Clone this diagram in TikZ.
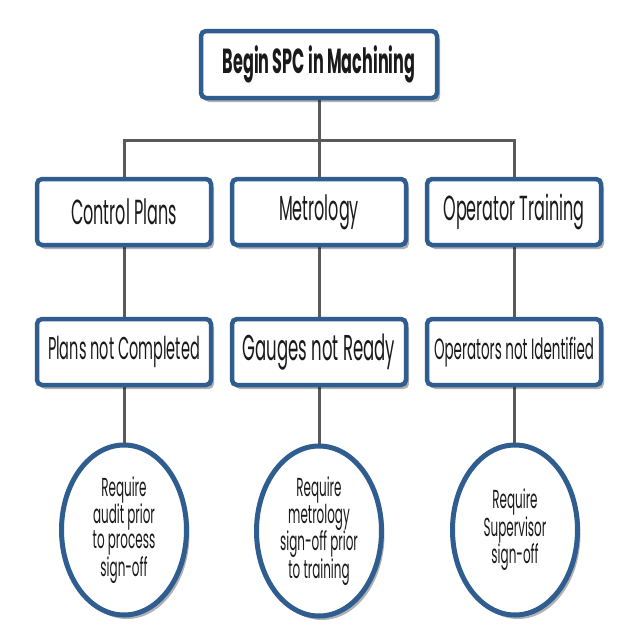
\documentclass[tikz,border=0pt]{standalone}
\usepackage{fontspec}
\setmainfont{Poppins}[FakeStretch=0.46]
\usetikzlibrary{shapes.geometric,shadows,backgrounds}
\definecolor{boxblue}{HTML}{2F5D8F}
\definecolor{linegray}{HTML}{5A5A5A}
\definecolor{txt}{HTML}{1A1A1A}
\begin{document}
\begin{tikzpicture}[x=1pt,y=-1pt,
  shad/.style={drop shadow={shadow xshift=3pt,shadow yshift=-4pt,fill=black,opacity=0.3}},
  box/.style={draw=boxblue,line width=4.5pt,rounded corners=5pt,fill=white,
    minimum width=174pt,minimum height=66pt,inner sep=0pt,text=txt,shad,
    font=\fontsize{34.8}{38}\selectfont},
  topbox/.style={box,minimum width=236pt,minimum height=67pt,font=\fontsize{34.8}{38}\selectfont\bfseries},
  oval/.style={ellipse,draw=boxblue,line width=5pt,fill=white,minimum width=125pt,
    minimum height=170pt,inner sep=0pt,align=center,text=txt,shad,
    font=\fontsize{26}{25}\selectfont},
  conn/.style={draw=linegray,line width=3pt}]
\useasboundingbox (0,0) rectangle (640,640);

\node[topbox] (top) at (319,64.5) {Begin SPC in Machining};

\node[box] (cp)  at (124,212) {Control Plans};
\node[box] (met) at (319,212) {Metrology};
\node[box] (ot)  at (514,212) {Operator Training};

\node[box,font=\fontsize{31.5}{34}\selectfont] (pnc) at (124,352) {Plans not Completed};
\node[box,font=\fontsize{35.9}{38}\selectfont] (gnr) at (319,352) {Gauges not Ready};
\node[box,font=\fontsize{29.3}{32}\selectfont] (oni) at (514,352) {Operators not Identified};

\node[oval] (e1) at (124,530) {Require\\audit prior\\to process\\sign-off};
\node[oval] (e2) at (319,531) {Require\\metrology\\sign-off prior\\to training};
\node[oval] (e3) at (515,530) {Require\\Supervisor\\sign-off};

\coordinate (bus) at (319,140);
\begin{scope}[on background layer]
\fill[white] (0,0) rectangle (640,640);
\draw[conn] (top.south) -- (bus);
\draw[conn] (bus) -| (cp.north);
\draw[conn] (bus) -- (met.north);
\draw[conn] (bus) -| (ot.north);
\draw[conn] (cp.south) -- (pnc.north);
\draw[conn] (met.south) -- (gnr.north);
\draw[conn] (ot.south) -- (oni.north);
\draw[conn] (pnc.south) -- (e1.north);
\draw[conn] (gnr.south) -- (e2.north);
\draw[conn] (oni.south) -- (oni.south |- e3.north);
\end{scope}
\end{tikzpicture}
\end{document}
